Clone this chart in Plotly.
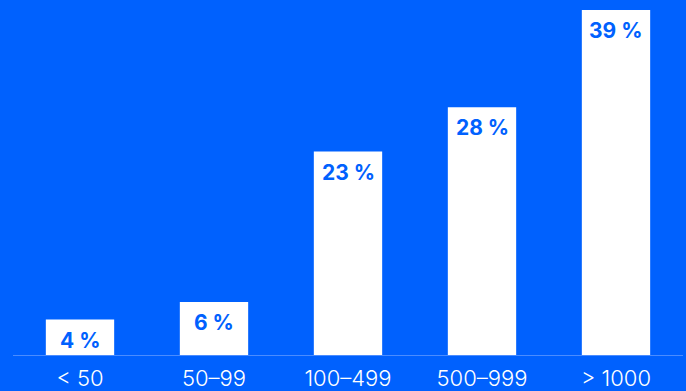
import plotly.graph_objects as go

# Share of companies by size bracket
categories = ["< 50", "50–99", "100–499", "500–999", "> 1000"]
shares = [4, 6, 23, 28, 39]
labels = [f"{v} %" for v in shares]

BLUE = "#0061FE"

fig = go.Figure(
    go.Bar(
        x=categories,
        y=shares,
        marker=dict(color="white", line=dict(width=0)),
        hoverinfo="skip",
    )
)

for cat, val, lab in zip(categories, shares, labels):
    fig.add_annotation(
        x=cat, y=val, text=f"<b>{lab}</b>", showarrow=False,
        yanchor="top", yshift=-6,
        font=dict(family="Inter", size=21, color=BLUE, weight=800),
    )

fig.update_layout(
    width=686, height=391,
    margin=dict(l=13, r=3, t=10, b=36),
    paper_bgcolor=BLUE, plot_bgcolor=BLUE,
    bargap=0.49,
    showlegend=False,
    xaxis=dict(
        automargin=False,
        showgrid=False, zeroline=False,
        showline=True, linecolor="#4A8CFF", linewidth=1,
        ticks="", ticklabelstandoff=4,
        tickfont=dict(family="Inter", size=22, color="white", weight=300),
    ),
    yaxis=dict(range=[0, 39], visible=False, showgrid=False, zeroline=False),
)

fig.write_html("out.html")
